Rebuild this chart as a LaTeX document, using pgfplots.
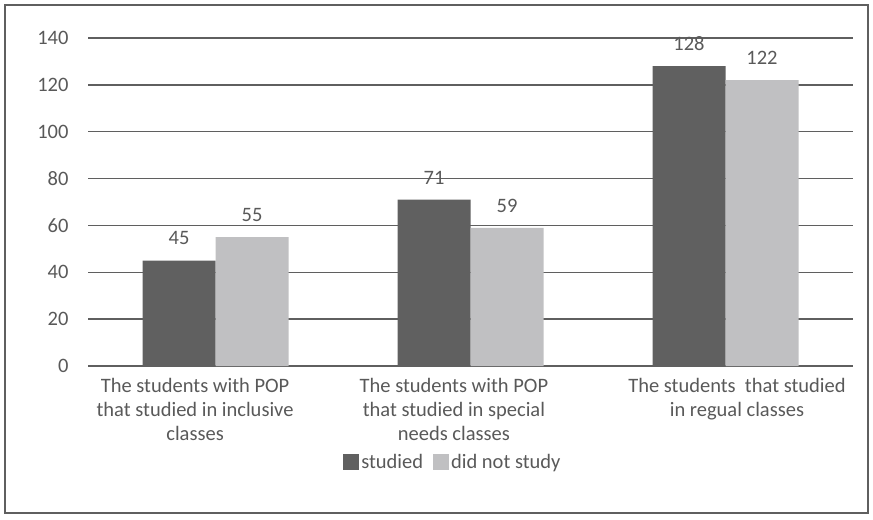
\documentclass[border=0pt]{standalone}
\usepackage{pgfplots}
\pgfplotsset{compat=1.18}
\usepackage{fontspec}
\setmainfont{Carlito}
\definecolor{dark}{HTML}{606060}
\definecolor{light}{HTML}{C0C0C2}
\definecolor{txt}{HTML}{595959}
\definecolor{grid}{HTML}{5F5F5F}
\begin{document}
\begin{tikzpicture}
\useasboundingbox (-88bp,-154bp) rectangle (785bp,366bp);
\draw[color=grid, line width=1.5bp] (-83bp,-147bp) rectangle (780bp,361bp);
\begin{axis}[
  at={(0,0)}, anchor=south west,
  scale only axis, width=765bp, height=328bp,
  xmin=-0.5, xmax=2.5, ymin=0, ymax=140,
  ytick={0,20,...,140},
  xtick={-0.08,0.935,2.045},
  xticklabels={{The students with POP\\that studied in inclusive\\classes},{The students with POP\\that studied in special\\needs classes},{The students\ \ that studied\\in regual classes}},
  x tick label style={align=center, font=\fontsize{20.5bp}{24bp}\selectfont, text=txt, anchor=north, yshift=-9bp},
  y tick label style={font=\fontsize{20.5bp}{22bp}\selectfont, text=txt},
  /pgf/number format/assume math mode=true,
  major tick length=0pt,
  axis line style={draw=none},
  ymajorgrids, grid style={color=grid, line width=1.5bp},
  ybar, bar width=73bp,
  enlargelimits=false,
  yticklabel style={xshift=-16bp},
  nodes near coords,
  every node near coord/.append style={font=\fontsize{20.5bp}{22bp}\selectfont, text=txt, yshift=12bp},
  legend style={at={(0.477,-0.255)}, anchor=north, draw=none, fill=none, legend columns=2, font=\fontsize{20.5bp}{22bp}\selectfont, text=txt, /tikz/every even column/.append style={column sep=8bp}},
  legend image code/.code={\fill[#1] (0bp,-8bp) rectangle (16bp,8bp);},
]
\addplot[fill=dark, draw=none, bar shift=-36.5bp] coordinates {(0,45) (1,71) (2,128)};
\addplot[fill=light, draw=none, bar shift=36.5bp] coordinates {(0,55) (1,59) (2,122)};
\legend{studied, did not study}
\end{axis}
\end{tikzpicture}
\end{document}
